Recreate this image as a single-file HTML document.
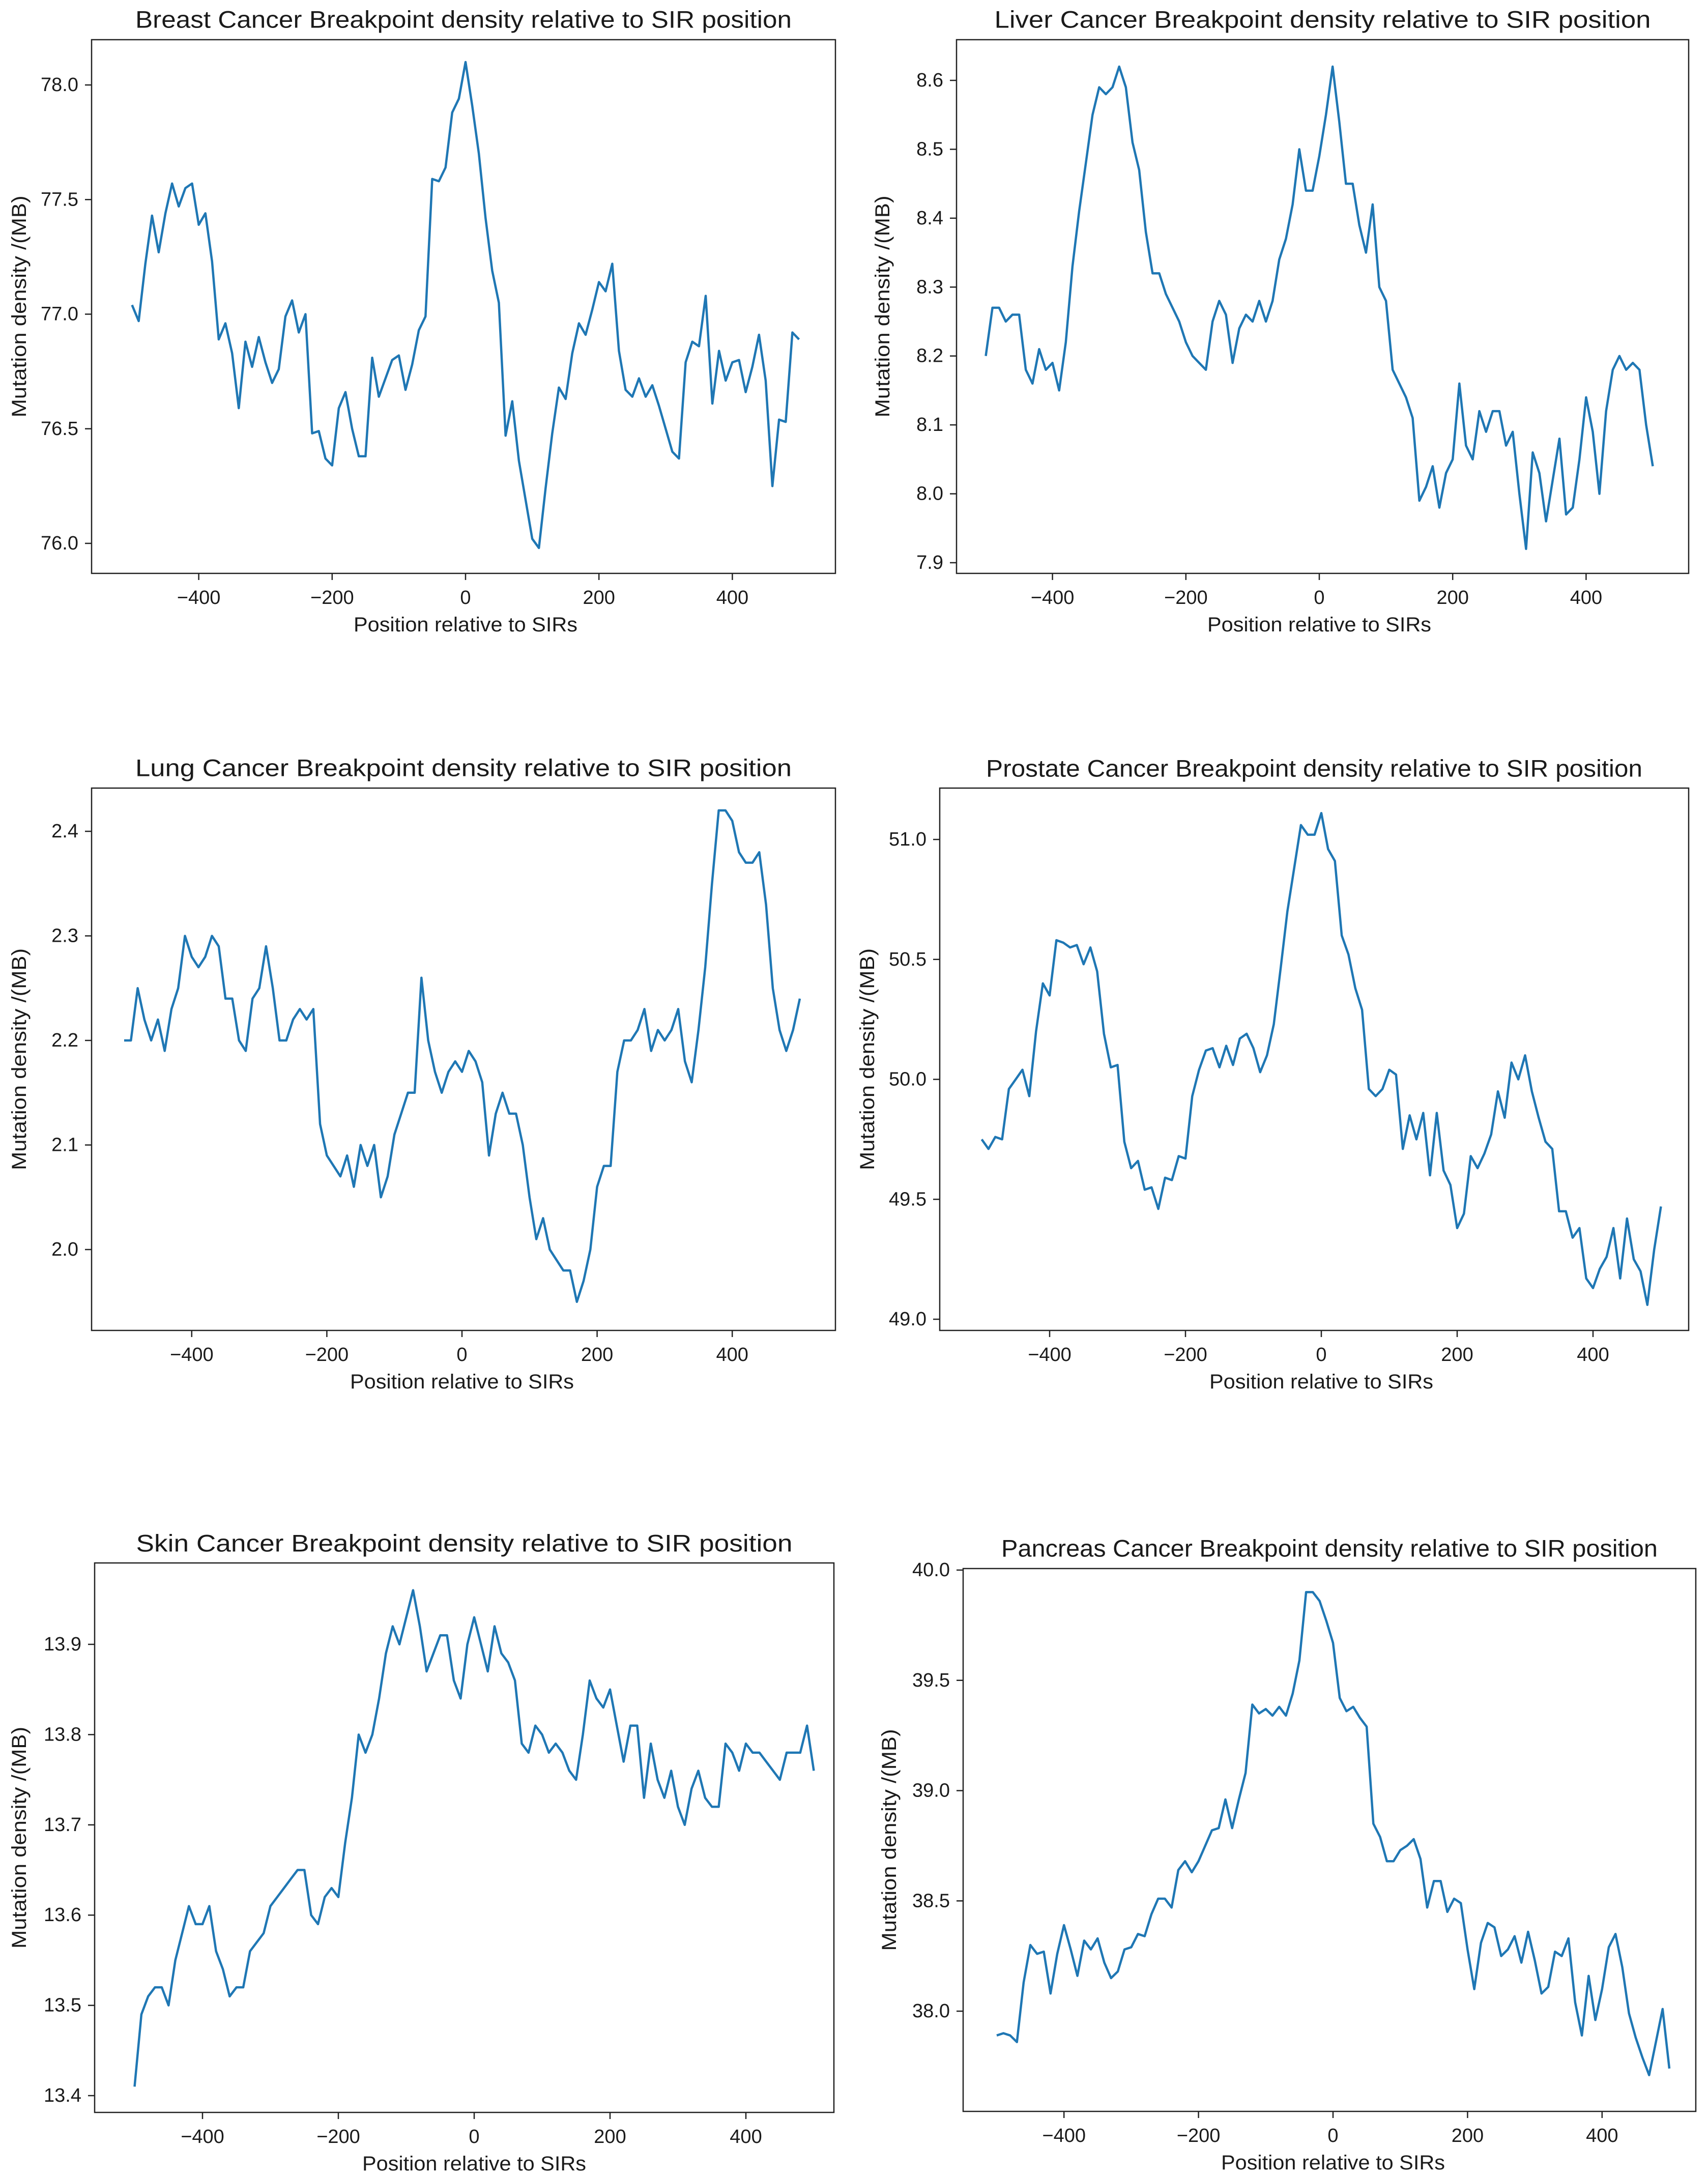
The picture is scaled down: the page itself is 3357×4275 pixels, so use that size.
<!DOCTYPE html>
<html><head><meta charset="utf-8">
<style>
html,body{margin:0;padding:0;background:#fff;}
svg{display:block;}
text{font-family:"Liberation Sans","DejaVu Sans",sans-serif;fill:#1a1a1a;}
</style></head>
<body>
<svg id="fig" width="3357" height="4275" viewBox="0 0 3357 4275" xmlns="http://www.w3.org/2000/svg"></svg>
<script>
const positions = [-500,-490,-480,-470,-460,-450,-440,-430,-420,-410,-400,-390,-380,-370,-360,-350,-340,-330,-320,-310,-300,-290,-280,-270,-260,-250,-240,-230,-220,-210,-200,-190,-180,-170,-160,-150,-140,-130,-120,-110,-100,-90,-80,-70,-60,-50,-40,-30,-20,-10,0,10,20,30,40,50,60,70,80,90,100,110,120,130,140,150,160,170,180,190,200,210,220,230,240,250,260,270,280,290,300,310,320,330,340,350,360,370,380,390,400,410,420,430,440,450,460,470,480,490,500];
const xTicks = [-400,-200,0,200,400];

const breastValues = [77.04,76.97,77.22,77.43,77.27,77.44,77.57,77.47,77.55,77.57,77.39,77.44,77.23,76.89,76.96,76.83,76.59,76.88,76.77,76.90,76.79,76.70,76.76,76.99,77.06,76.92,77.00,76.48,76.49,76.37,76.34,76.59,76.66,76.50,76.38,76.38,76.81,76.64,76.72,76.80,76.82,76.67,76.78,76.93,76.99,77.59,77.58,77.64,77.88,77.94,78.10,77.91,77.70,77.42,77.19,77.05,76.47,76.62,76.36,76.19,76.02,75.98,76.24,76.48,76.68,76.63,76.83,76.96,76.91,77.02,77.14,77.10,77.22,76.84,76.67,76.64,76.72,76.64,76.69,76.60,76.50,76.40,76.37,76.79,76.88,76.86,77.08,76.61,76.84,76.71,76.79,76.80,76.66,76.77,76.91,76.71,76.25,76.54,76.53,76.92,76.89];
const breastTicks = [76.0,76.5,77.0,77.5,78.0];

const liverValues = [8.20,8.27,8.27,8.25,8.26,8.26,8.18,8.16,8.21,8.18,8.19,8.15,8.22,8.33,8.41,8.48,8.55,8.59,8.58,8.59,8.62,8.59,8.51,8.47,8.38,8.32,8.32,8.29,8.27,8.25,8.22,8.20,8.19,8.18,8.25,8.28,8.26,8.19,8.24,8.26,8.25,8.28,8.25,8.28,8.34,8.37,8.42,8.50,8.44,8.44,8.49,8.55,8.62,8.54,8.45,8.45,8.39,8.35,8.42,8.30,8.28,8.18,8.16,8.14,8.11,7.99,8.01,8.04,7.98,8.03,8.05,8.16,8.07,8.05,8.12,8.09,8.12,8.12,8.07,8.09,8.00,7.92,8.06,8.03,7.96,8.02,8.08,7.97,7.98,8.05,8.14,8.09,8.00,8.12,8.18,8.20,8.18,8.19,8.18,8.10,8.04];
const liverTicks = [7.9,8.0,8.1,8.2,8.3,8.4,8.5,8.6];

const lungValues = [2.20,2.20,2.25,2.22,2.20,2.22,2.19,2.23,2.25,2.30,2.28,2.27,2.28,2.30,2.29,2.24,2.24,2.20,2.19,2.24,2.25,2.29,2.25,2.20,2.20,2.22,2.23,2.22,2.23,2.12,2.09,2.08,2.07,2.09,2.06,2.10,2.08,2.10,2.05,2.07,2.11,2.13,2.15,2.15,2.26,2.20,2.17,2.15,2.17,2.18,2.17,2.19,2.18,2.16,2.09,2.13,2.15,2.13,2.13,2.10,2.05,2.01,2.03,2.00,1.99,1.98,1.98,1.95,1.97,2.00,2.06,2.08,2.08,2.17,2.20,2.20,2.21,2.23,2.19,2.21,2.20,2.21,2.23,2.18,2.16,2.21,2.27,2.35,2.42,2.42,2.41,2.38,2.37,2.37,2.38,2.33,2.25,2.21,2.19,2.21,2.24];
const lungTicks = [2.0,2.1,2.2,2.3,2.4];

const prostateValues = [49.75,49.71,49.76,49.75,49.96,50.00,50.04,49.93,50.20,50.40,50.35,50.58,50.57,50.55,50.56,50.48,50.55,50.45,50.19,50.05,50.06,49.74,49.63,49.66,49.54,49.55,49.46,49.59,49.58,49.68,49.67,49.93,50.04,50.12,50.13,50.05,50.14,50.06,50.17,50.19,50.13,50.03,50.10,50.23,50.46,50.70,50.88,51.06,51.02,51.02,51.11,50.96,50.91,50.60,50.52,50.38,50.29,49.96,49.93,49.96,50.04,50.02,49.71,49.85,49.75,49.86,49.60,49.86,49.62,49.56,49.38,49.44,49.68,49.63,49.69,49.77,49.95,49.84,50.07,50.00,50.10,49.95,49.84,49.74,49.71,49.45,49.45,49.34,49.38,49.17,49.13,49.21,49.26,49.38,49.17,49.42,49.25,49.20,49.06,49.29,49.47];
const prostateTicks = [49.0,49.5,50.0,50.5,51.0];

const skinValues = [13.41,13.49,13.51,13.52,13.52,13.50,13.55,13.58,13.61,13.59,13.59,13.61,13.56,13.54,13.51,13.52,13.52,13.56,13.57,13.58,13.61,13.62,13.63,13.64,13.65,13.65,13.60,13.59,13.62,13.63,13.62,13.68,13.73,13.80,13.78,13.80,13.84,13.89,13.92,13.90,13.93,13.96,13.92,13.87,13.89,13.91,13.91,13.86,13.84,13.90,13.93,13.90,13.87,13.92,13.89,13.88,13.86,13.79,13.78,13.81,13.80,13.78,13.79,13.78,13.76,13.75,13.80,13.86,13.84,13.83,13.85,13.81,13.77,13.81,13.81,13.73,13.79,13.75,13.73,13.76,13.72,13.70,13.74,13.76,13.73,13.72,13.72,13.79,13.78,13.76,13.79,13.78,13.78,13.77,13.76,13.75,13.78,13.78,13.78,13.81,13.76];
const skinTicks = [13.4,13.5,13.6,13.7,13.8,13.9];

const pancreasValues = [37.89,37.90,37.89,37.86,38.13,38.30,38.26,38.27,38.08,38.26,38.39,38.28,38.16,38.32,38.28,38.33,38.22,38.15,38.18,38.28,38.29,38.35,38.34,38.44,38.51,38.51,38.47,38.64,38.68,38.63,38.68,38.75,38.82,38.83,38.96,38.83,38.96,39.08,39.39,39.35,39.37,39.34,39.38,39.34,39.44,39.59,39.90,39.90,39.86,39.77,39.67,39.42,39.36,39.38,39.33,39.29,38.85,38.79,38.68,38.68,38.73,38.75,38.78,38.69,38.47,38.59,38.59,38.45,38.51,38.49,38.28,38.10,38.31,38.40,38.38,38.25,38.28,38.34,38.22,38.36,38.23,38.08,38.11,38.27,38.25,38.33,38.04,37.89,38.16,37.96,38.10,38.29,38.35,38.20,37.99,37.88,37.79,37.71,37.86,38.01,37.74];
const pancreasTicks = [38.0,38.5,39.0,39.5,40.0];

const NS = 'http://www.w3.org/2000/svg';
const svg = document.getElementById('fig');
function mk(tag, attrs, parent){
  const e = document.createElementNS(NS, tag);
  for (const k in attrs) e.setAttribute(k, attrs[k]);
  (parent||svg).appendChild(e);
  return e;
}
function fmt(v, dec){ const s = Math.abs(v).toFixed(dec); return v < 0 ? '\u2212' + s : s; }

const panels = [
  {key:'breast', title:'Breast Cancer Breakpoint density relative to SIR position', vals:breastValues, ticks:breastTicks,
   x0:915, xs:1.311, L:180, R:1642, T:78, B:1127, yv1:78.0, yp1:167, yv2:76.0, yp2:1068, titleY:38, ylabX:38},
  {key:'liver', title:'Liver Cancer Breakpoint density relative to SIR position', vals:liverValues, ticks:liverTicks,
   x0:2593, xs:1.311, L:1880, R:3319, T:78, B:1127, yv1:8.6, yp1:158, yv2:7.9, yp2:1106, titleY:38, ylabX:1735},
  {key:'lung', title:'Lung Cancer Breakpoint density relative to SIR position', vals:lungValues, ticks:lungTicks,
   x0:908, xs:1.328, L:180, R:1642, T:1549, B:2615, yv1:2.4, yp1:1634, yv2:2.0, yp2:2456, titleY:1509, ylabX:38},
  {key:'prostate', title:'Prostate Cancer Breakpoint density relative to SIR position', vals:prostateValues, ticks:prostateTicks,
   x0:2597, xs:1.335, L:1847, R:3319, T:1549, B:2615, yv1:51.0, yp1:1650, yv2:49.0, yp2:2593, titleY:1510, ylabX:1705},
  {key:'skin', title:'Skin Cancer Breakpoint density relative to SIR position', vals:skinValues, ticks:skinTicks,
   x0:932, xs:1.335, L:186, R:1639, T:3072, B:4152, yv1:13.9, yp1:3232, yv2:13.4, yp2:4119, titleY:3033, ylabX:38},
  {key:'pancreas', title:'Pancreas Cancer Breakpoint density relative to SIR position', vals:pancreasValues, ticks:pancreasTicks,
   x0:2620, xs:1.322, L:1893, R:3333, T:3083, B:4150, yv1:40.0, yp1:3086, yv2:38.0, yp2:3953, titleY:3043, ylabX:1748}
];

panels.forEach(p => {
  const L = p.L, R = p.R;
  const xf = v => p.x0 + v*p.xs;
  const yf = v => p.yp1 + (v - p.yv1) * (p.yp2 - p.yp1) / (p.yv2 - p.yv1);
  const g = mk('g', {});
  
  

  const title = mk('text', {x:(L+R)/2, y:p.titleY, 'text-anchor':'middle', 'dominant-baseline':'central', 'font-size':47, textLength:Math.min(1290, p.title.length*24.2), lengthAdjust:'spacingAndGlyphs'}, g);
  title.textContent = p.title;
  
  

  let d = '';
  p.vals.forEach((v,i) => { d += (i ? 'L' : 'M') + xf(positions[i]).toFixed(1) + ',' + yf(v).toFixed(1); });
  const line = mk('path', {d:d, fill:'none', stroke:'#1f77b4', 'stroke-width':4.5, 'stroke-linejoin':'round'}, g);
  
  

  const frame = mk('rect', {x:L, y:p.T, width:R-L, height:p.B-p.T, fill:'none', stroke:'#222', 'stroke-width':2.5}, g);
  
  

  xTicks.forEach(t => {
    const tk = mk('line', {x1:xf(t), x2:xf(t), y1:p.B, y2:p.B+13, stroke:'#222', 'stroke-width':2.5}, g);
    
    
    const tl = mk('text', {x:xf(t), y:p.B+48, 'text-anchor':'middle', 'dominant-baseline':'central', 'font-size':38}, g);
    tl.textContent = fmt(t, 0);
    
    
  });
  p.ticks.forEach(t => {
    const tk = mk('line', {x1:L-13, x2:L, y1:yf(t), y2:yf(t), stroke:'#222', 'stroke-width':2.5}, g);
    
    
    const tl = mk('text', {x:L-26, y:yf(t), 'text-anchor':'end', 'dominant-baseline':'central', 'font-size':38}, g);
    tl.textContent = fmt(t, 1);
    
    
  });

  const xl = mk('text', {x:p.x0, y:p.B+101, 'text-anchor':'middle', 'dominant-baseline':'central', 'font-size':40, textLength:440, lengthAdjust:'spacingAndGlyphs'}, g);
  xl.textContent = 'Position relative to SIRs';
  
  

  const cy = (p.T + p.B)/2;
  const yl = mk('text', {x:p.ylabX, y:cy, 'text-anchor':'middle', 'dominant-baseline':'central', 'font-size':40, textLength:436, lengthAdjust:'spacingAndGlyphs', transform:'rotate(-90 ' + p.ylabX + ' ' + cy + ')'}, g);
  yl.textContent = 'Mutation density /(MB)';
  
  
});
</script>
</body></html>
